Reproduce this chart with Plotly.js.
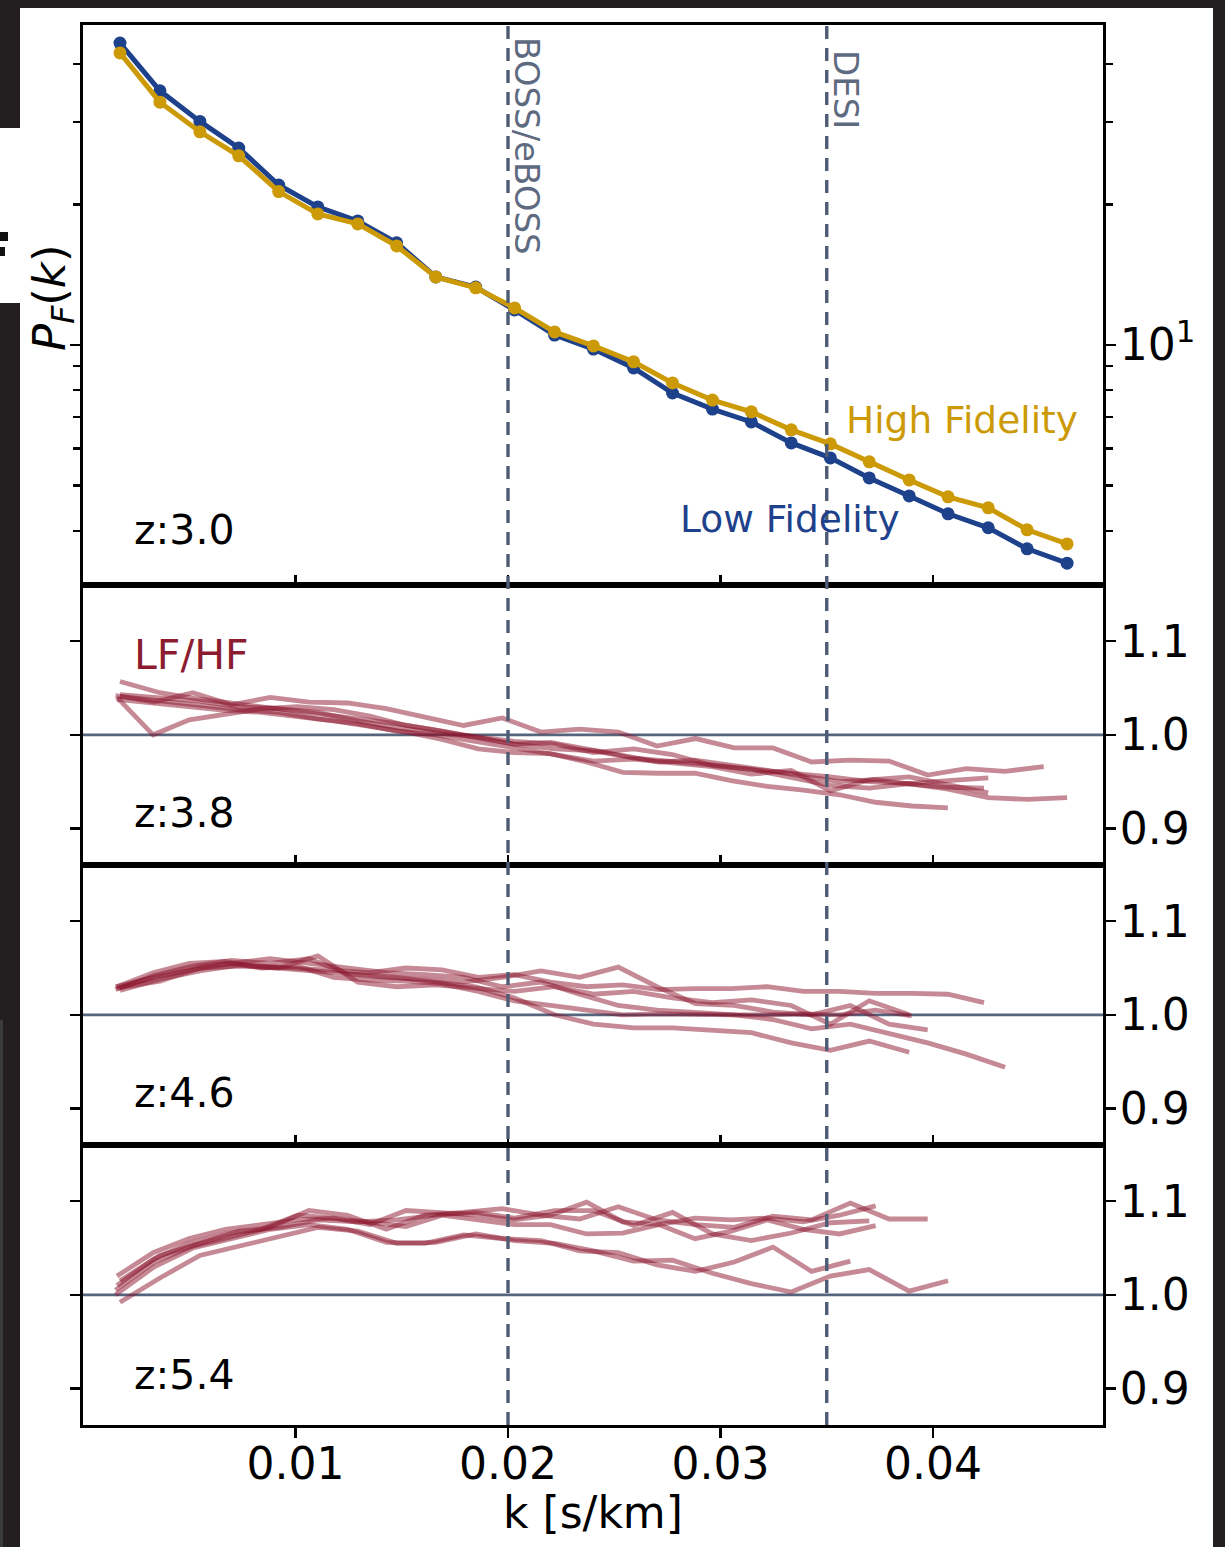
<!DOCTYPE html>
<html>
<head>
<meta charset="utf-8">
<script src="https://cdn.plot.ly/plotly-3.0.1.min.js"></script>
<style>
  html, body { margin: 0; padding: 0; background: #ffffff; }
  #wrap { position: relative; width: 1225px; height: 1547px; overflow: hidden; }
  #plot { position: absolute; left: 0; top: 0; width: 1225px; height: 1547px; }
  .frame { position: absolute; background: #231f20; z-index: 5; }
</style>
</head>
<body>
<div id="wrap">
  <div id="plot"></div>
  <div class="frame" style="left:0;top:0;width:1225px;height:8px;"></div>
  <div class="frame" style="left:0;top:0;width:20px;height:128px;"></div>
  <div class="frame" style="left:0;top:303px;width:20px;height:1244px;"></div>
  <div class="frame" style="left:0;top:1020px;width:3px;height:527px;background:#3b3b3b;"></div>
  <div class="frame" style="left:0;top:232px;width:8px;height:9px;background:#111;"></div>
  <div class="frame" style="left:0;top:247px;width:5px;height:9px;background:#111;"></div>
  <div class="frame" style="left:1213px;top:0;width:12px;height:1547px;"></div>
</div>
<script>
// ---------------- data ----------------
const kTop = [0.00174, 0.00362, 0.00550, 0.00733, 0.00921, 0.01105, 0.01293, 0.01476, 0.01660, 0.01848,
              0.02031, 0.02219, 0.02402, 0.02591, 0.02774, 0.02962, 0.03145, 0.03333, 0.03517, 0.03700,
              0.03888, 0.04071, 0.04260, 0.04443, 0.04631];
const pLowFid  = [44.3, 35.0, 30.1, 26.4, 22.0, 19.75, 18.43, 16.54, 13.98, 13.3, 11.88, 10.50, 9.80, 8.93, 7.89,
                  7.29, 6.84, 6.17, 5.73, 5.19, 4.75, 4.35, 4.06, 3.66, 3.41];
const pHighFid = [42.2, 33.1, 28.6, 25.4, 21.3, 19.08, 18.16, 16.29, 13.98, 13.25, 12.00, 10.66, 9.95, 9.20, 8.29,
                  7.62, 7.19, 6.58, 6.14, 5.62, 5.14, 4.73, 4.48, 4.02, 3.75];

// k grids of the ratio curves
const kA = kTop;
const kB = [0.00160, 0.00330, 0.00500, 0.00670, 0.00840, 0.01010, 0.01180, 0.01350, 0.01520, 0.01690,
            0.01860, 0.02030, 0.02200, 0.02370, 0.02540, 0.02710, 0.02880, 0.03050, 0.03220, 0.03390,
            0.03560, 0.03730, 0.03900, 0.04070, 0.04240];
const kC = [0.00153, 0.00335, 0.00517, 0.00699, 0.00881, 0.01063, 0.01245, 0.01427, 0.01609, 0.01791,
            0.01973, 0.02155, 0.02337, 0.02519, 0.02701, 0.02883, 0.03065, 0.03247, 0.03429, 0.03611,
            0.03793, 0.03975, 0.04157, 0.04339, 0.04521];

// z = 3.8  (LF/HF)
const r38a = [1.042, 1.035, 1.045, 1.032, 1.040, 1.035, 1.034, 1.028, 1.019, 1.010, 1.018, 1.003, 1.006, 1.003,
              0.988, 0.996, 0.986, 0.986, 0.971, 0.973, 0.972, 0.957, 0.964, 0.961, 0.966];           // kC
const r38b = [1.057, 1.045, 1.038, 1.033, 1.028, 1.022, 1.018, 1.012, 1.005, 0.998, 0.990, 0.985, 0.983, 0.975,
              0.972, 0.968, 0.963, 0.955, 0.946, 0.943, 0.948, 0.942, 0.933, 0.931, 0.933];           // kA
const r38c = [1.040, 1.000, 1.016, 1.022, 1.028, 1.030, 1.027, 1.020, 1.010, 1.004, 0.997, 0.990, 0.992, 0.985,
              0.978, 0.971, 0.973, 0.968, 0.962, 0.956, 0.950, 0.952, 0.947, 0.944, 0.943];           // kB
const r38d = [1.043, 1.040, 1.036, 1.030, 1.028, 1.024, 1.015, 1.008, 1.002, 0.998, 0.993, 0.990, 0.981, 0.985,
              0.979, 0.967, 0.963, 0.960, 0.955, 0.950, 0.948, 0.951, 0.954];                         // kA
const r38e = [1.038, 1.034, 1.030, 1.026, 1.024, 1.020, 1.015, 1.009, 1.003, 0.995, 0.985, 0.981, 0.980, 0.971,
              0.960, 0.959, 0.959, 0.951, 0.945, 0.941, 0.936, 0.928, 0.924, 0.922];                  // kB
const r38f = [1.041, 1.036, 1.031, 1.027, 1.024, 1.017, 1.012, 1.004, 1.000, 0.993, 0.986, 0.978, 0.972, 0.974,
              0.970, 0.966, 0.958, 0.962, 0.940, 0.952, 0.955, 0.947, 0.938];                         // kA

// z = 4.6
const r46a = [1.028, 1.040, 1.050, 1.055, 1.052, 1.050, 1.048, 1.045, 1.050, 1.048, 1.040, 1.043, 1.035, 1.030,
              1.032, 1.027, 1.028, 1.028, 1.030, 1.025, 1.025, 1.023, 1.023, 1.022, 1.013];           // kB
const r46b = [1.030, 1.040, 1.048, 1.055, 1.060, 1.055, 1.050, 1.045, 1.043, 1.040, 1.030, 1.035, 1.022, 1.010,
              1.005, 1.002, 1.000, 0.995, 0.985, 0.990, 0.980, 0.970, 0.958, 0.944];                  // kC
const r46c = [1.026, 1.038, 1.047, 1.053, 1.050, 1.046, 1.043, 1.040, 1.035, 1.030, 1.018, 1.000, 0.990, 0.986,
              0.986, 0.983, 0.981, 0.970, 0.962, 0.972, 0.960];                                       // kA
const r46d = [1.027, 1.042, 1.052, 1.058, 1.055, 1.060, 1.044, 1.040, 1.038, 1.035, 1.040, 1.047, 1.040, 1.051,
              1.030, 1.012, 1.010, 1.003, 1.000, 1.010, 0.990, 0.984];                                // kC
const r46e = [1.029, 1.036, 1.050, 1.052, 1.050, 1.063, 1.035, 1.030, 1.032, 1.028, 1.025, 1.030, 1.022, 1.025,
              1.018, 1.013, 1.016, 1.010, 0.990, 1.015, 1.000];                                       // kA
const r46f = [1.030, 1.045, 1.055, 1.057, 1.050, 1.052, 1.040, 1.037, 1.036, 1.033, 1.025, 1.015, 1.010, 1.005,
              1.000, 1.001, 1.000, 1.000, 1.000, 1.001, 1.000, 1.005, 0.999];                         // kB

// z = 5.4
const r54a = [0.992, 1.018, 1.042, 1.052, 1.062, 1.072, 1.068, 1.055, 1.056, 1.065, 1.058, 1.055, 1.047, 1.036,
              1.037, 1.023, 1.012, 1.003, 1.020, 1.027, 1.004, 1.015];                                // kA
const r54b = [1.000, 1.030, 1.050, 1.060, 1.070, 1.075, 1.070, 1.056, 1.055, 1.064, 1.060, 1.058, 1.047, 1.045,
              1.032, 1.025, 1.035, 1.051, 1.025, 1.036];                                              // kC
const r54c = [1.010, 1.038, 1.055, 1.065, 1.070, 1.085, 1.082, 1.075, 1.090, 1.088, 1.085, 1.080, 1.085, 1.099,
              1.078, 1.075, 1.082, 1.080, 1.082, 1.078, 1.085, 1.095];                                // kB
const r54d = [1.005, 1.035, 1.052, 1.062, 1.072, 1.090, 1.085, 1.070, 1.085, 1.088, 1.092, 1.085, 1.081, 1.094,
              1.080, 1.075, 1.072, 1.084, 1.080, 1.098, 1.081, 1.081];                                // kC
const r54e = [1.015, 1.042, 1.055, 1.068, 1.072, 1.080, 1.078, 1.080, 1.085, 1.088, 1.082, 1.090, 1.090, 1.074,
              1.088, 1.065, 1.058, 1.066, 1.077, 1.079];                                              // kA
const r54f = [1.020, 1.045, 1.060, 1.070, 1.075, 1.080, 1.082, 1.078, 1.073, 1.085, 1.080, 1.075, 1.075, 1.065,
              1.066, 1.075, 1.060, 1.068, 1.080, 1.070, 1.065, 1.074];                                // kB

const ratioSets = [
  {ax: 2, lines: [[kC, r38a], [kA, r38b], [kB, r38c], [kA, r38d], [kB, r38e], [kA, r38f]]},
  {ax: 3, lines: [[kB, r46a], [kC, r46b], [kA, r46c], [kC, r46d], [kA, r46e], [kB, r46f]]},
  {ax: 4, lines: [[kA, r54a], [kC, r54b], [kB, r54c], [kC, r54d], [kA, r54e], [kB, r54f]]}
];

const xTickVals = [0.01, 0.02, 0.03, 0.04];
const xTickText = ['0.01', '0.02', '0.03', '0.04'];
const rTickVals = [0.9, 1.0, 1.1];
const rTickText = ['0.9', '1.0', '1.1'];
const logMinor = [4, 5, 6, 7, 8, 9, 20, 30, 40];
const surveyK = [0.02, 0.035];
const surveyNames = ['BOSS/eBOSS', 'DESI'];
const zLabels = ['z:3.0', 'z:3.8', 'z:4.6', 'z:5.4'];

// ---------------- layout helpers ----------------
const W = 1225, H = 1547;
const FONT = 'DejaVu Sans, Verdana, sans-serif';
const BLUE = '#1e418c', GOLD = '#cc9a06', RED = '#8c1c30';
const RLINE = 'rgba(140,22,45,0.5)';
const px = v => v / W;
const py = v => 1 - v / H;
const xDom = [px(83), px(1103)];
const panelPx = [[25, 585], [585, 865], [865, 1145], [1145, 1425]];
const yDom = panelPx.map(p => [py(p[1]), py(p[0])]);

const traces = [];
traces.push({x: kTop, y: pLowFid, xaxis: 'x', yaxis: 'y', mode: 'lines+markers',
  line: {color: BLUE, width: 5}, marker: {color: BLUE, size: 13}, hoverinfo: 'skip'});
traces.push({x: kTop, y: pHighFid, xaxis: 'x', yaxis: 'y', mode: 'lines+markers',
  line: {color: GOLD, width: 5}, marker: {color: GOLD, size: 13}, hoverinfo: 'skip'});
ratioSets.forEach(s => {
  s.lines.forEach(([kg, r]) => {
    traces.push({x: kg.slice(0, r.length), y: r, xaxis: 'x' + s.ax, yaxis: 'y' + s.ax, mode: 'lines',
      line: {color: RLINE, width: 4.8}, hoverinfo: 'skip'});
  });
});

const baseX = {
  range: [0, 0.048], tickmode: 'array', tickvals: xTickVals, ticktext: xTickText,
  ticks: 'inside', ticklen: 10, tickwidth: 2.4, tickcolor: '#000',
  showticklabels: false, showline: true, linecolor: '#000', linewidth: 3, mirror: true,
  showgrid: false, zeroline: false, domain: xDom, fixedrange: true
};
const layout = {
  width: W, height: H, margin: {l: 0, r: 0, t: 0, b: 0},
  paper_bgcolor: '#ffffff', plot_bgcolor: '#ffffff', showlegend: false,
  font: {family: FONT, color: '#000', size: 44},
  shapes: [], annotations: []
};
for (let i = 1; i <= 4; i++) {
  const s = i === 1 ? '' : String(i);
  layout['xaxis' + s] = Object.assign({}, baseX, {anchor: 'y' + s});
}
layout.xaxis4.ticks = 'outside';
layout.xaxis4.showticklabels = true;
layout.xaxis4.ticklabelstandoff = -12;
layout.xaxis4.tickfont = {family: FONT, size: 44, color: '#000'};
layout.xaxis5 = Object.assign({}, baseX, {anchor: 'y4', overlaying: 'x4', ticks: 'inside', mirror: false});

// y axes: main (outside ticks, right labels) + overlay (inside ticks) per panel
const yBase = {
  showgrid: false, zeroline: false, showline: true, linecolor: '#000', linewidth: 3,
  side: 'right', mirror: 'ticks', tickwidth: 2.4, tickcolor: '#000', ticklen: 10, fixedrange: true,
  ticklabelstandoff: -5,
  tickfont: {family: FONT, size: 44, color: '#000'}
};
layout.yaxis = Object.assign({}, yBase, {
  domain: yDom[0], anchor: 'x', type: 'log', range: [0.486, 1.685],
  tickmode: 'array', tickvals: [10], ticktext: ['10<sup>1</sup>'], ticks: 'outside',
  minor: {tickmode: 'array', tickvals: logMinor, ticks: 'outside', ticklen: 7, tickwidth: 2.4, tickcolor: '#000'}
});
layout.yaxis5 = Object.assign({}, yBase, {
  domain: yDom[0], anchor: 'x', overlaying: 'y', type: 'log', range: [0.486, 1.685],
  tickmode: 'array', tickvals: [10], ticks: 'inside', showticklabels: false,
  minor: {tickmode: 'array', tickvals: logMinor, ticks: 'inside', ticklen: 7, tickwidth: 2.4, tickcolor: '#000'}
});
for (let i = 2; i <= 4; i++) {
  layout['yaxis' + i] = Object.assign({}, yBase, {
    domain: yDom[i - 1], anchor: 'x' + i, range: [0.861, 1.160],
    tickmode: 'array', tickvals: rTickVals, ticktext: rTickText, ticks: 'outside'
  });
  layout['yaxis' + (i + 4)] = Object.assign({}, yBase, {
    domain: yDom[i - 1], anchor: 'x' + i, overlaying: 'y' + i, range: [0.861, 1.160],
    tickmode: 'array', tickvals: rTickVals, ticks: 'inside', showticklabels: false
  });
  layout.shapes.push({type: 'line', xref: 'x' + i + ' domain', yref: 'y' + i, x0: 0, x1: 1, y0: 1, y1: 1,
    line: {color: '#56657e', width: 2.6}, layer: 'below'});
}
surveyK.forEach(k => {
  layout.shapes.push({type: 'line', xref: 'x', yref: 'paper', x0: k, x1: k, y0: py(1425), y1: py(25),
    line: {color: '#4d5c74', width: 3.4, dash: '13px,9px'}, layer: 'above'});
});

const ann = (text, x, y, opt) => Object.assign({text, xref: 'paper', yref: 'paper', x: px(x), y: py(y),
  showarrow: false, xanchor: 'left', yanchor: 'middle', font: {family: FONT, size: 41, color: '#000'}}, opt || {});
layout.annotations.push(ann(surveyNames[0], 527, 146, {xanchor: 'center', textangle: 90, font: {family: FONT, size: 34, color: '#5e6a7f'}}));
layout.annotations.push(ann(surveyNames[1], 846, 89, {xanchor: 'center', textangle: 90, font: {family: FONT, size: 34, color: '#5e6a7f'}}));
layout.annotations.push(ann('High Fidelity', 844, 420, {font: {family: FONT, size: 37.5, color: GOLD}}));
layout.annotations.push(ann('Low Fidelity', 678, 519, {font: {family: FONT, size: 37.5, color: BLUE}}));
layout.annotations.push(ann('LF/HF', 132, 655, {font: {family: FONT, size: 41, color: RED}}));
[530, 813, 1093, 1375].forEach((y, i) => layout.annotations.push(ann(zLabels[i], 132, y)));
layout.annotations.push(ann('<i>P</i><sub><i>F</i></sub>(<i>k</i>)', 52, 298, {xanchor: 'center', textangle: -90, font: {family: FONT, size: 45, color: '#000'}}));
layout.annotations.push(ann('k [s/km]', 593, 1512, {xanchor: 'center', font: {family: FONT, size: 44, color: '#000'}}));

Plotly.newPlot('plot', traces, layout, {staticPlot: true, displayModeBar: false});
</script>
</body>
</html>
